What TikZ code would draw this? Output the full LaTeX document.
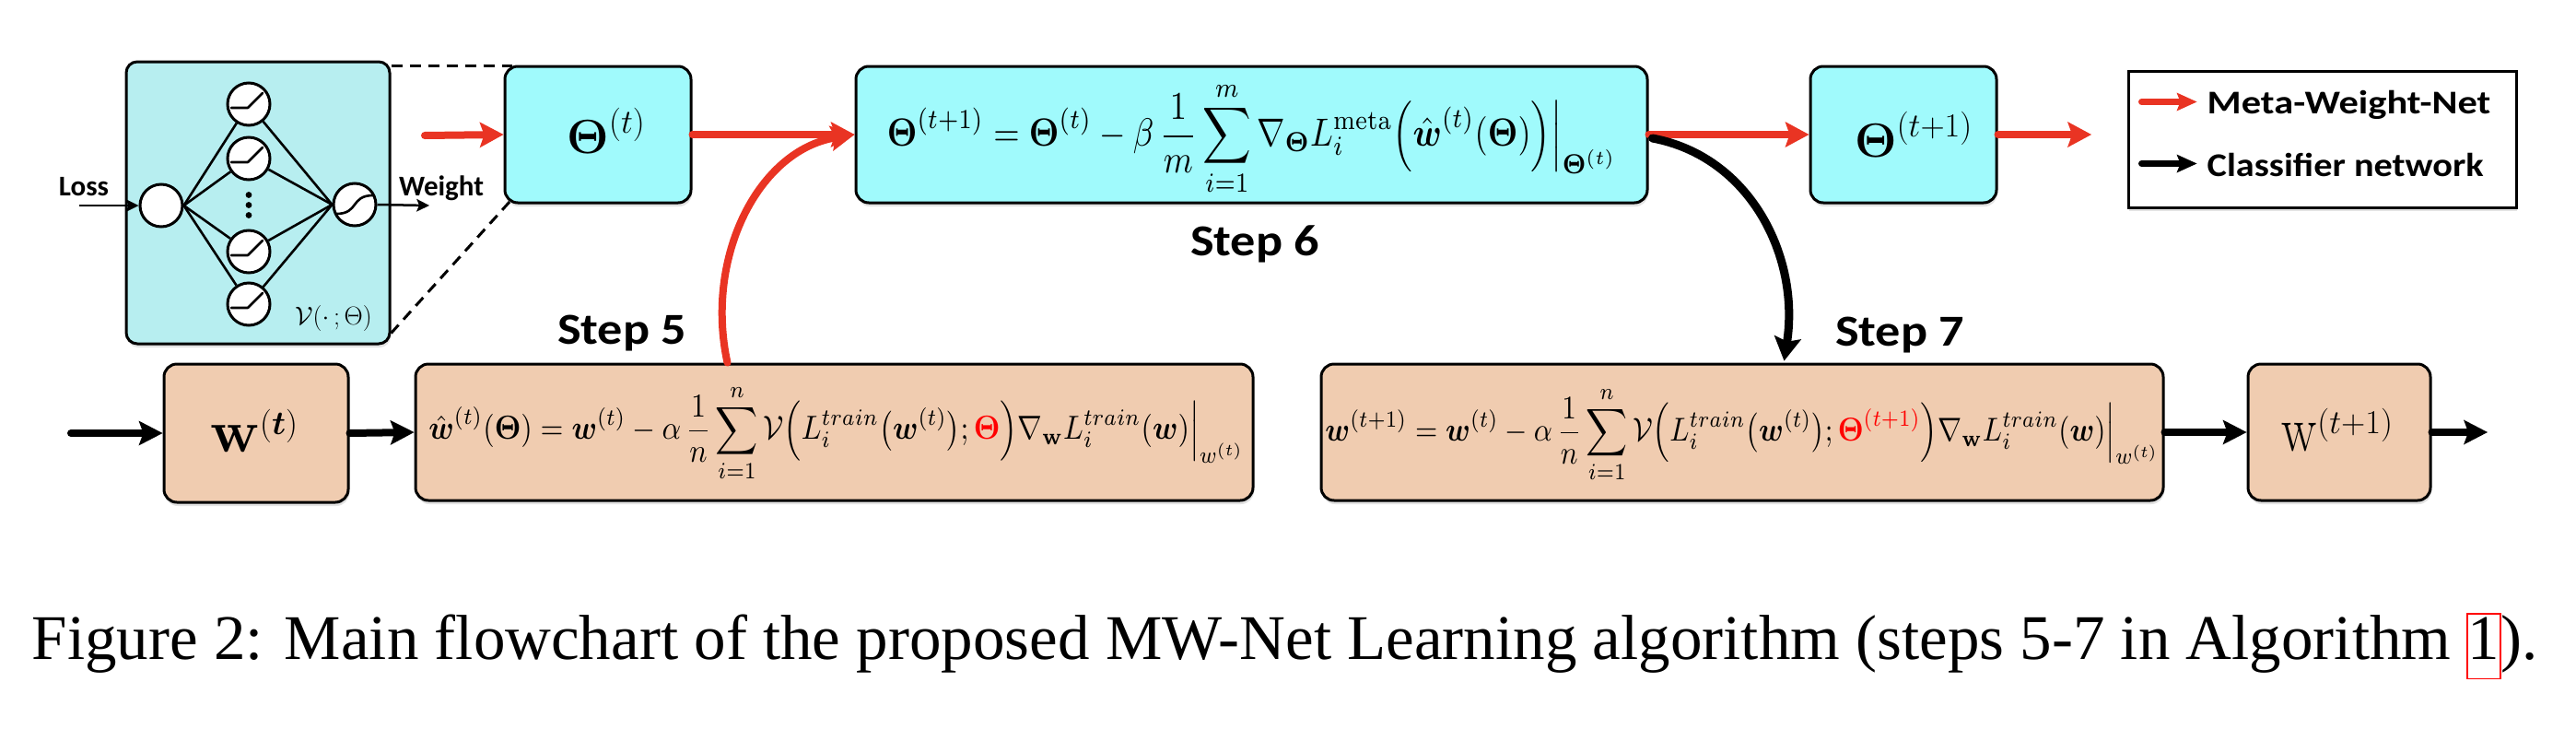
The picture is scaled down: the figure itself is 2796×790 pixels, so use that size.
\RequirePackage{fix-cm}
\documentclass[tikz,border=0pt]{standalone}
\usepackage{amsmath,amssymb}
\usepackage{graphicx}
\usepackage[no-math]{fontspec}
\newfontfamily\lblfont{Carlito}
\newfontfamily\capfont{Liberation Serif}
\usetikzlibrary{arrows.meta,shadows,calc}
\definecolor{mred}{RGB}{233,52,35}
\definecolor{cyanb}{RGB}{160,250,252}
\definecolor{nnfill}{RGB}{183,238,240}
\definecolor{tanb}{RGB}{240,204,176}
\newcommand{\mwTheta}{\boldsymbol{\Theta}}
\newcommand{\mww}{\boldsymbol{w}}
\begin{document}
\begin{tikzpicture}[x=1pt,y=-1pt]
\tikzset{
 boxbase/.style={draw=black, line width=3pt, rounded corners=14pt, inner sep=0pt,
   drop shadow={shadow xshift=1pt, shadow yshift=-4pt, opacity=0.22}},
 cyanbox/.style={boxbase, fill=cyanb, minimum height=148pt},
 tanbox/.style={boxbase, fill=tanb, minimum height=148pt},
 neuron/.style={circle, draw=black, line width=3pt, fill=white, minimum size=46pt, inner sep=0pt},
 netline/.style={line width=2.6pt, draw=black},
 glyph/.style={line width=2.6pt, draw=black, line cap=round, line join=round},
 redarr/.style={draw=mred, line width=8pt, line cap=round, -{Stealth[length=26pt,width=28pt,inset=5pt,line width=0pt]}},
 blkarr/.style={draw=black, line width=8pt, line cap=round, -{Stealth[length=26pt,width=27pt,inset=5pt,line width=0pt]}},
 legred/.style={draw=mred, line width=7pt, line cap=round, -{Stealth[length=22pt,width=20pt,inset=4pt,line width=0pt]}},
 legblk/.style={draw=black, line width=7pt, line cap=round, -{Stealth[length=22pt,width=20pt,inset=4pt,line width=0pt]}},
 thinarr/.style={draw=black, line width=2.5pt, -{Stealth[length=14pt,width=14pt,inset=3pt,line width=0pt]}},
 dashln/.style={draw=black, line width=3pt, dash pattern=on 12pt off 8pt},
 lbl/.style={font=\lblfont\bfseries\fontsize{31}{36}\selectfont, inner sep=0pt},
 steplbl/.style={font=\lblfont\bfseries\fontsize{48}{56}\selectfont, inner sep=0pt, anchor=base},
 leglbl/.style={font=\lblfont\bfseries\fontsize{36}{42}\selectfont, inner sep=0pt, anchor=base west},
 bigmath/.style={font=\fontsize{52}{60}\selectfont, inner sep=0pt},
}
\fill[white] (0,0) rectangle (2796,790);
\useasboundingbox (0,0) rectangle (2796,790);

% ---- small network box ----
\node[boxbase, fill=nnfill, rounded corners=12pt, minimum width=286pt, minimum height=306pt] (nn) at (280,220) {};
\node[neuron] (in) at (175,223) {};
\node[neuron] (h1) at (270,113) {};
\node[neuron] (h2) at (270,172) {};
\node[neuron] (h3) at (270,273) {};
\node[neuron] (h4) at (270,330) {};
\node[neuron] (out) at (385,222) {};
\foreach \n in {h1,h2,h3,h4}{
  \draw[netline] (in.east) -- (\n);
  \draw[netline] (\n) -- (out.west);
  \draw[glyph, shift={(\n.center)}] (-19,4) -- (-1,4) -- (15,-12);
}
\draw[glyph, shift={(out.center)}] (-20,10) .. controls (5,10) and (-5,-10) .. (20,-10);
\foreach \dy in {-11,0,11}
  \fill[black] ($(h2)!0.5!(h3)+(0,\dy)$) circle[radius=3.4pt];
\coordinate (lossin) at (86,223);
\draw[thinarr] (lossin) -- (in.west);
\coordinate (wout) at (466,223);
\draw[thinarr] (out.east) -- (wout);
\node[lbl, anchor=base] (loss) at (91,212) {Loss};
\node[lbl, anchor=base] (weight) at (479,212) {Weight};
\node[font=\fontsize{28}{32}\selectfont, inner sep=0pt] (nu) at (362,345) {$\mathcal{V}(\cdot\,;\Theta)$};

% ---- boxes ----
\node[cyanbox, minimum width=202pt] (th) at (649,146) {};
\node[cyanbox, minimum width=859pt] (s6) at (1358.5,146) {};
\node[cyanbox, minimum width=202pt] (th1) at (2066,146) {};
\node[tanbox, minimum width=200pt, minimum height=150pt] (w) at (278,470) {};
\node[tanbox, minimum width=909pt] (s5) at (905.5,469) {};
\node[tanbox, minimum width=914pt] (s7) at (1891,469) {};
\node[tanbox, minimum width=198pt] (w1) at (2539,469) {};

\node[bigmath] (tht) at (658,142) {$\mwTheta^{(t)}$};
\node[bigmath] (th1t) at (2077,146) {$\mwTheta^{(t+1)}$};
\node[bigmath] (wt) at (276,467) {$\scalebox{1.25}{$\mathbf{w}$}^{(\boldsymbol{t})}$};
\node[bigmath] (w1t) at (2537,466) {$\scalebox{1.1}[1.35]{$\mathrm{w}$}^{(t+1)}$};

\node[inner sep=0pt] (f6) at (1359,150.5) {\resizebox*{792pt}{125pt}{$\displaystyle
  \mwTheta^{(t+1)} = \mwTheta^{(t)} - \beta\,\frac{1}{m}\sum_{i=1}^{m}\nabla_{\mwTheta}L_i^{\mathrm{meta}}\Big(\hat{\mww}^{(t)}(\mwTheta)\Big)\Big|_{\mwTheta^{(t)}}$}};
\node[inner sep=0pt] (f5) at (908,470) {\resizebox*{885pt}{106pt}{$\displaystyle
  \hat{\mww}^{(t)}(\mwTheta) = \mww^{(t)} - \alpha\,\frac{1}{n}\sum_{i=1}^{n}\mathcal{V}\Big(L_i^{train}\big(\mww^{(t)}\big);{\color{red}\mwTheta}\Big)\nabla_{\mathbf{w}}L_i^{train}(\mww)\Big|_{w^{(t)}}$}};
\node[inner sep=0pt] (f7) at (1891,472) {\resizebox*{905pt}{105pt}{$\displaystyle
  \mww^{(t+1)} = \mww^{(t)} - \alpha\,\frac{1}{n}\sum_{i=1}^{n}\mathcal{V}\Big(L_i^{train}\big(\mww^{(t)}\big);{\color{red}\mwTheta^{(t+1)}}\Big)\nabla_{\mathbf{w}}L_i^{train}(\mww)\Big|_{w^{(t)}}$}};

% ---- dashed zoom lines ----
\draw[dashln] ([yshift=-6pt]nn.north east) -- ([xshift=9pt,yshift=-1pt]th.north west);
\draw[dashln] ([yshift=13pt]nn.south east) -- ([xshift=7pt,yshift=3pt]th.south west);

% ---- red (meta) arrows ----
\coordinate (rin) at (461,147);
\draw[redarr] (rin) -- (th.west);
\draw[redarr] (th.east) -- (s6.west);
\draw[redarr] (s6.east) -- (th1.west);
\coordinate (rout) at (2270,146);
\draw[redarr] (th1.east) -- (rout);
\coordinate (c5) at ($(s5.north west)+(340,0)$);
\draw[redarr] (c5) .. controls +(-25,-115) and +(-104,17) .. (s6.west);

% ---- black (classifier) arrows ----
\coordinate (kin) at (77,470);
\draw[blkarr] (kin) -- (w.west);
\draw[blkarr] (w.east) -- (s5.west);
\draw[blkarr] (s7.east) -- (w1.west);
\coordinate (kout) at (2700,469);
\draw[blkarr] (w1.east) -- (kout);
\coordinate (c6) at ($(s6.east)+(4,4)$);
\coordinate (c7) at ($(s7.north west)+(504,-2)$);
\draw[blkarr, line width=9pt, -{Stealth[length=26pt,width=30pt,inset=5pt,line width=0pt]}] (c6) .. controls +(107,20) and +(17,-112) .. (c7);

% ---- step labels ----
\node[steplbl] (st5) at (675,373) {\scalebox{1.13}[1]{Step 5}};
\node[steplbl] (st6) at (1362,277) {\scalebox{1.13}[1]{Step 6}};
\node[steplbl] (st7) at (2062,375) {\scalebox{1.13}[1]{Step 7}};

% ---- legend ----
\node[draw=black, line width=3pt, fill=white, inner sep=0pt, minimum width=421pt, minimum height=148pt,
  drop shadow={shadow xshift=1pt, shadow yshift=-4pt, opacity=0.22}] (leg) at (2520.5,151) {};
\coordinate (lr1) at ($(leg.north west)+(16,35)$);
\coordinate (lr2) at ($(leg.north west)+(76,35)$);
\coordinate (lk1) at ($(leg.north west)+(16,102)$);
\coordinate (lk2) at ($(leg.north west)+(76,102)$);
\draw[legred] (lr1) -- (lr2);
\draw[legblk] (lk1) -- (lk2);
\node[leglbl] (lt1) at ($(leg.north west)+(87,48)$) {\scalebox{1.18}[1]{Meta-Weight-Net}};
\node[leglbl] (lt2) at ($(leg.north west)+(87,116)$) {\scalebox{1.12}[1]{Classifier network}};

% ---- caption ----
\node[font=\capfont\fontsize{69}{69}\selectfont, anchor=base, inner sep=0pt] (cap) at (1395,715)
  {Figure 2: Main flowchart of the proposed MW-Net Learning algorithm (steps 5-7 in Algorithm {\setlength{\fboxsep}{0pt}\setlength{\fboxrule}{1.5pt}\color{red}\fbox{\color{black}\strut 1}}).};
\end{tikzpicture}
\end{document}
